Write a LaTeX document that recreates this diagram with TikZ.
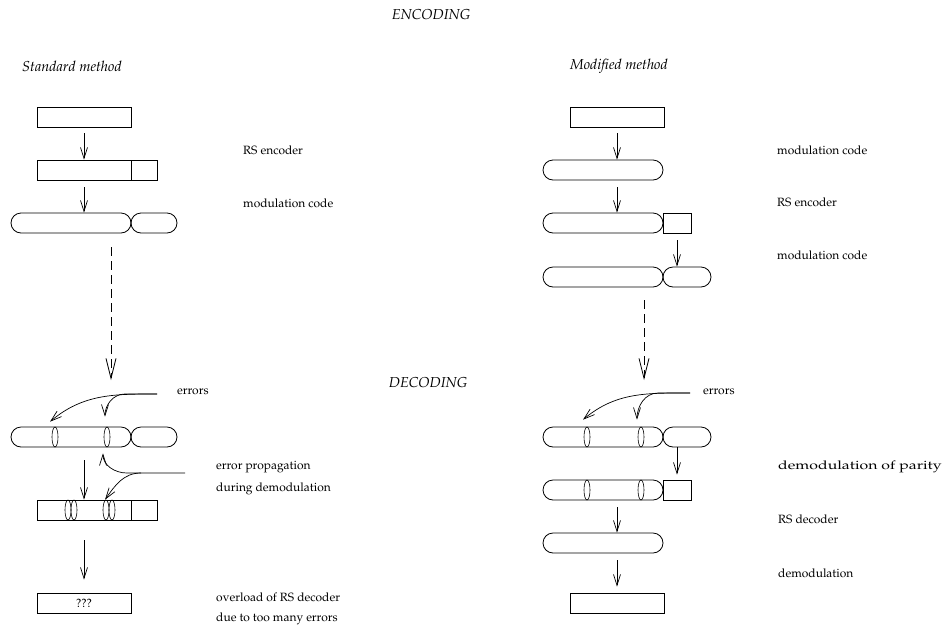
\documentclass[tikz,border=0pt]{standalone}
\usepackage[T1]{fontenc}
\usepackage{mathpazo}
\usepackage{tikz}
\usetikzlibrary{positioning,arrows.meta,shapes.misc,shapes.geometric,calc}

\begin{document}
\begin{tikzpicture}[
  x=1pt, y=-1pt,
  every node/.style={font=\fontsize{12}{14}\selectfont},
  block/.style={draw=black, line width=0.8pt, minimum height=20pt, inner sep=0pt},
  capsule/.style={block, rounded rectangle},
  ring/.style={draw=black, line width=0.6pt, ellipse, minimum width=6pt, minimum height=20pt, inner sep=0pt},
  arr/.style={-{Straight Barb[length=11pt,width=7pt]}, line width=0.7pt},
  darr/.style={-{Straight Barb[length=20pt,width=10pt]}, line width=0.8pt, dash pattern=on 9pt off 5pt},
  lbl/.style={anchor=west, inner sep=0pt},
  title/.style={inner sep=0pt, font=\fontsize{14.4}{16}\selectfont\itshape}
]
  \useasboundingbox (0,0) rectangle (945,635);

  % Headings
  \node[title] (enc) at (431,15) {ENCODING};
  \node[title] (dec) at (428,383) {DECODING};
  \node[title, anchor=west] (std) at (22,66) {Standard method};
  \node[title, anchor=west] (mod) at (570,66) {Modified method};

  % Standard method, encoding
  \node[block, minimum width=94pt] (in1) at (84,117) {};
  \node[block, minimum width=94pt] (rs1) at (84,170) {};
  \node[block, minimum width=26pt] (par1) at (144,170) {};
  \node[capsule, minimum width=120pt] (ma1) at (71,223) {};
  \node[capsule, minimum width=46pt] (mb1) at (154,223) {};

  % Standard method, decoding
  \node[capsule, minimum width=120pt] (ra1) at (71,437) {};
  \node[capsule, minimum width=46pt] (rb1) at (154,437) {};
  \node[ring] (e1) at (55,437) {};
  \node[ring] (e2) at (107,437) {};
  \node[block, minimum width=94pt] (dm1) at (84,510) {};
  \node[block, minimum width=26pt] (par2) at (144,510) {};
  \node[ring] (f1) at (68,510) {};
  \node[ring] (f2) at (74,510) {};
  \node[ring] (f3) at (106,510) {};
  \node[ring] (f4) at (112,510) {};
  \node[block, minimum width=94pt] (out1) at (84,603) {???};

  % Modified method, encoding
  \node[block, minimum width=94pt] (in2) at (617,117) {};
  \node[capsule, minimum width=120pt] (mc2) at (603,170) {};
  \node[capsule, minimum width=120pt] (rs2) at (603,223) {};
  \node[block, minimum width=28pt] (par3) at (677,223) {};
  \node[capsule, minimum width=120pt] (ma2) at (603,277) {};
  \node[capsule, minimum width=48pt] (mb2) at (687,277) {};

  % Modified method, decoding
  \node[capsule, minimum width=120pt] (ra2) at (603,437) {};
  \node[capsule, minimum width=48pt] (rb2) at (687,437) {};
  \node[ring] (g1) at (587,437) {};
  \node[ring] (g2) at (641,437) {};
  \node[capsule, minimum width=120pt] (dp2) at (603,490) {};
  \node[block, minimum width=28pt] (par4) at (677,490) {};
  \node[ring] (h1) at (587,490) {};
  \node[ring] (h2) at (641,490) {};
  \node[capsule, minimum width=120pt] (rd2) at (603,543) {};
  \node[block, minimum width=94pt] (out2) at (617,603) {};

  % Labels
  \node[lbl] (l1) at (243,150) {RS encoder};
  \node[lbl] (l2) at (243,203) {modulation code};
  \node[lbl] (l3) at (777,150) {modulation code};
  \node[lbl] (l4) at (777,202) {RS encoder};
  \node[lbl] (l5) at (777,255) {modulation code};
  \node[lbl] (l6) at (177,392) {errors};
  \node[lbl] (l7) at (703,392) {errors};
  \node[lbl] (l8) at (216,467) {error propagation};
  \node[lbl] (l9) at (216,489) {during demodulation};
  \node[lbl] (l10) at (216,597) {overload of RS decoder};
  \node[lbl] (l11) at (216,619) {due to too many errors};
  \node[lbl] (l12) at (778,467) {\scalebox{1.32}[1]{demodulation of parity}};
  \node[lbl] (l13) at (778,519) {RS decoder};
  \node[lbl] (l14) at (778,573) {demodulation};

  % Free ends
  \coordinate (d1) at (111,247);
  \coordinate (d2) at (111,380);
  \coordinate (d3) at (644,300);
  \coordinate (d4) at (644,380);
  \coordinate (err1) at (157,394);
  \coordinate (err2) at (690,393);
  \coordinate (prop) at (185,473);

  % Arrows, standard method
  \draw[arr, shorten <=6pt] (in1) -- (rs1);
  \draw[arr, shorten <=7pt] (rs1.south) -- (rs1.south |- ma1.north);
  \draw[darr] (d1) -- (d2);
  \draw[arr] (err1) to[out=180,in=40] ([xshift=-5pt,yshift=5pt]e1.north);
  \draw[arr] (err1) -- ++(-32,0) to[out=180,in=90] ([xshift=-2pt,yshift=10pt]e2.north);
  \draw[arr] (prop) -- ++(-58,0) to[out=180,in=-90] ([xshift=-4pt,yshift=-6pt]e2.south);
  \draw[arr] ([xshift=-44pt]prop) to[out=180,in=55] ([xshift=-1pt]f3.north);
  \draw[arr, shorten <=13pt] (ra1.south -| rs1.south) -- (rs1.south |- dm1.north);
  \draw[arr, shorten <=20pt, shorten >=13pt] (dm1) -- (out1);

  % Arrows, modified method
  \draw[arr, shorten <=6pt] (in2.south) -- (in2.south |- mc2.north);
  \draw[arr, shorten <=7pt] (mc2.south -| in2.south) -- (in2.south |- rs2.north);
  \draw[arr, shorten <=7pt] (par3.south) -- (par3.south |- mb2.north);
  \draw[darr] (d3) -- (d4);
  \draw[arr] (err2) to[out=180,in=40] ([xshift=-4pt,yshift=7pt]g1.north);
  \draw[arr] (err2) -- ++(-32,0) to[out=180,in=90] ([xshift=-4pt,yshift=7pt]g2.north);
  \draw[arr, shorten >=5pt] (rb2.south -| par4.north) -- (par4.north);
  \draw[arr, shorten <=7pt] (dp2.south -| in2.south) -- (in2.south |- rd2.north);
  \draw[arr, shorten <=7pt, shorten >=6pt] (rd2.south -| in2.south) -- (out2.north);
\end{tikzpicture}
\end{document}
